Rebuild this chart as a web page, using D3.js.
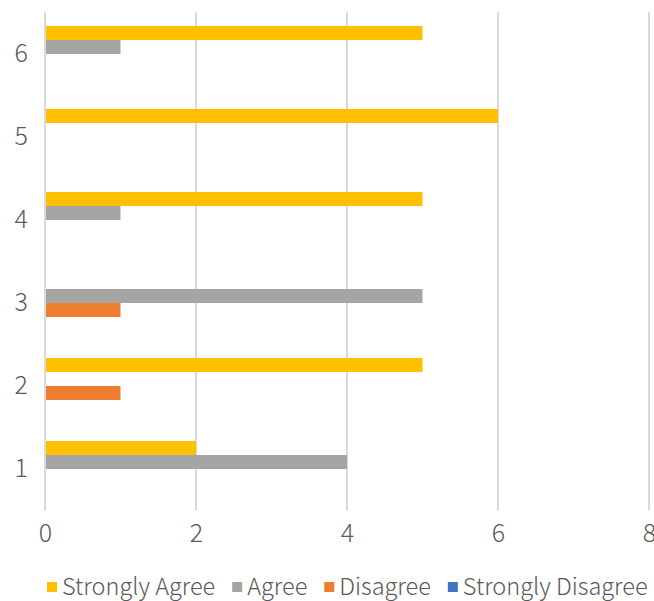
<!DOCTYPE html>
<html>
<head>
<meta charset="utf-8">
<script src="https://cdn.jsdelivr.net/npm/d3@7"></script>
<style>
  body { margin: 0; background: #fff; }
  text { font-family: "Noto Sans CJK SC", "Noto Sans", sans-serif; fill: #595959; font-weight: 300; }
</style>
</head>
<body>
<div id="chart"></div>
<script>
var categories = ["1", "2", "3", "4", "5", "6"];
var series = ["Strongly Agree", "Agree", "Disagree", "Strongly Disagree"];
var colors = ["#FFC000", "#A5A5A5", "#ED7D31", "#4472C4"];
var stronglyAgree = [2, 5, 0, 5, 6, 5];
var agree = [4, 0, 5, 1, 0, 1];
var disagree = [0, 1, 1, 0, 0, 0];
var stronglyDisagree = [0, 0, 0, 0, 0, 0];
var xTicks = [0, 2, 4, 6, 8];

var values = [stronglyAgree, agree, disagree, stronglyDisagree];

var width = 654,
    height = 601,
    plotLeft = 45,
    plotRight = 649,
    plotTop = 12.5,
    plotBottom = 510.5;

var svg = d3
    .select("#chart")
    .append("svg")
    .attr("width", width)
    .attr("height", height);

var x = d3.scaleLinear().domain([0, 8]).range([plotLeft, plotRight]);

var y = d3
    .scaleBand()
    .domain(categories)
    .range([plotBottom, plotTop])
    .paddingInner(0.325)
    .paddingOuter(0.1625);

var y1 = d3
    .scaleBand()
    .domain(series)
    .range([0, y.bandwidth()]);

// gridlines
svg
    .append("g")
    .selectAll("line")
    .data(xTicks)
    .enter()
    .append("line")
    .attr("x1", (d) => x(d))
    .attr("x2", (d) => x(d))
    .attr("y1", plotTop)
    .attr("y2", plotBottom)
    .attr("stroke", "#d9d9d9")
    .attr("stroke-width", 2);

// bars
var groups = svg
    .append("g")
    .selectAll("g")
    .data(categories)
    .enter()
    .append("g")
    .attr("transform", (d) => "translate(0," + y(d) + ")");

groups
    .selectAll("rect")
    .data(function (d, i) {
        return series.map(function (s, j) {
            return { s: s, j: j, v: values[j][i] };
        });
    })
    .enter()
    .append("rect")
    .attr("x", x(0) + 1)
    .attr("y", (d) => y1(d.s))
    .attr("width", (d) => Math.max(0, x(d.v) - x(0) - 1))
    .attr("height", y1.bandwidth())
    .attr("fill", (d) => colors[d.j]);

// x axis labels
var xAxis = d3.axisBottom(x).tickValues(xTicks).tickSize(0).tickPadding(14);
svg
    .append("g")
    .attr("transform", "translate(0," + plotBottom + ")")
    .call(xAxis)
    .call((g) => g.select(".domain").remove())
    .selectAll("text")
    .style("font-size", "25px")
    .attr("fill", "#595959");

// y axis labels
var yAxis = d3.axisLeft(y).tickSize(0).tickPadding(17);
svg
    .append("g")
    .attr("transform", "translate(" + plotLeft + ",0)")
    .call(yAxis)
    .call((g) => g.select(".domain").remove())
    .selectAll("text")
    .style("font-size", "25px")
    .attr("fill", "#595959");

// legend, laid out left to right
var lx = 47;
series.forEach(function (s, i) {
    var item = svg.append("g").attr("transform", "translate(" + lx + ",587)");
    item
        .append("rect")
        .attr("x", 0)
        .attr("y", -5)
        .attr("width", 10)
        .attr("height", 10)
        .attr("fill", colors[i]);
    var t = item
        .append("text")
        .attr("x", 15)
        .attr("dy", "0.35em")
        .style("font-size", "23.5px")
        .text(s);
    lx += 15 + t.node().getComputedTextLength() + 17;
});
</script>
</body>
</html>
